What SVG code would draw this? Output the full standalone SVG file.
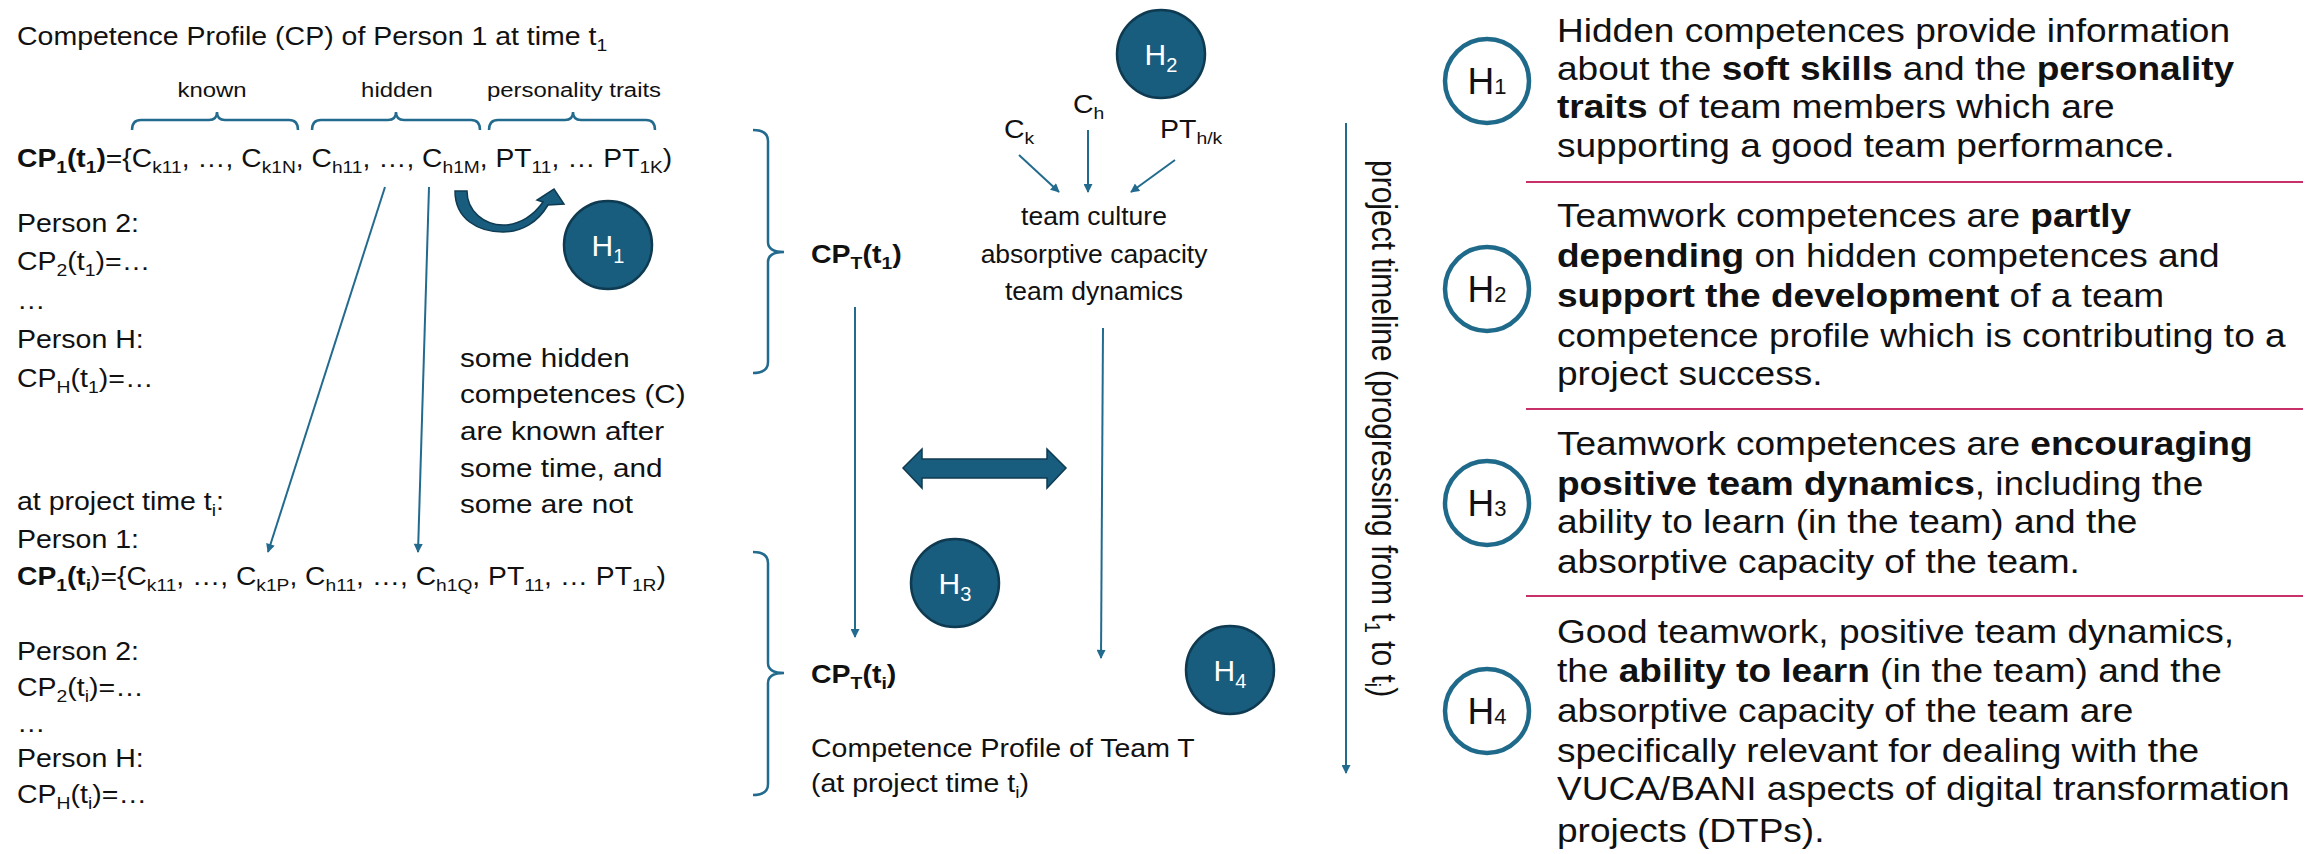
<svg xmlns="http://www.w3.org/2000/svg" width="2323" height="854" viewBox="0 0 2323 854">
<defs>
<style>
text{font-family:"Liberation Sans",Arial,sans-serif;fill:#111}
.t25{font-size:25px}
.t26{font-size:26px}
.t21{font-size:21px}
.t30{font-size:30px}
.r{font-size:32.5px}
.s{font-size:17px}
.b{font-weight:bold}
.ln{stroke:#236b8e;stroke-width:2;fill:none}
.br{stroke:#236b8e;stroke-width:2.5;fill:none}
.hf{fill:#185d7e;stroke:#0f3b52;stroke-width:2.5}
.ho{fill:#fff;stroke:#1f6a8a;stroke-width:4.5}
.hl{fill:#fff;font-size:30px}
.hr{font-size:37px;fill:#111}
.sep{stroke:#c8306a;stroke-width:2}
.shape{fill:#185d7e;stroke:#0f3b52;stroke-width:1.5}
</style>
<marker id="ah" viewBox="0 0 10 10" refX="9" refY="5" markerWidth="11" markerHeight="9" markerUnits="userSpaceOnUse" orient="auto"><path d="M0,0 L10,5 L0,10 z" fill="#236b8e"/></marker>
</defs>
<rect width="2323" height="854" fill="#fff"/>

<g id="person-profiles">
<text class="t25" transform="translate(17,45) scale(1.14,1)">Competence Profile (CP) of Person 1 at time t<tspan class="s" dy="6">1</tspan></text>
<text class="t21" text-anchor="middle" transform="translate(212,97) scale(1.14,1)">known</text>
<text class="t21" text-anchor="middle" transform="translate(397,97) scale(1.14,1)">hidden</text>
<text class="t21" text-anchor="middle" transform="translate(574,97) scale(1.14,1)">personality traits</text>
<text class="t25" transform="translate(17,167) scale(1.13,1)"><tspan class="b">CP<tspan class="s" dy="6">1</tspan><tspan dy="-6">(t</tspan><tspan class="s" dy="6">1</tspan><tspan dy="-6">)</tspan></tspan>={C<tspan class="s" dy="6">k11</tspan><tspan dy="-6">, …, C</tspan><tspan class="s" dy="6">k1N</tspan><tspan dy="-6">, C</tspan><tspan class="s" dy="6">h11</tspan><tspan dy="-6">, …, C</tspan><tspan class="s" dy="6">h1M</tspan><tspan dy="-6">, PT</tspan><tspan class="s" dy="6">11</tspan><tspan dy="-6">, … PT</tspan><tspan class="s" dy="6">1K</tspan><tspan dy="-6">)</tspan></text>
<text class="t25" transform="translate(17,232) scale(1.14,1)">Person 2:</text>
<text class="t25" transform="translate(17,270) scale(1.14,1)">CP<tspan class="s" dy="6">2</tspan><tspan dy="-6">(t</tspan><tspan class="s" dy="6">1</tspan><tspan dy="-6">)=…</tspan></text>
<text class="t25" transform="translate(17,309) scale(1.14,1)">…</text>
<text class="t25" transform="translate(17,348) scale(1.14,1)">Person H:</text>
<text class="t25" transform="translate(17,387) scale(1.14,1)">CP<tspan class="s" dy="6">H</tspan><tspan dy="-6">(t</tspan><tspan class="s" dy="6">1</tspan><tspan dy="-6">)=…</tspan></text>

<text class="t26" transform="translate(460,367) scale(1.14,1)">some hidden</text>
<text class="t26" transform="translate(460,403) scale(1.14,1)">competences (C)</text>
<text class="t26" transform="translate(460,440) scale(1.14,1)">are known after</text>
<text class="t26" transform="translate(460,477) scale(1.14,1)">some time, and</text>
<text class="t26" transform="translate(460,513) scale(1.14,1)">some are not</text>

<text class="t25" transform="translate(17,510) scale(1.14,1)">at project time t<tspan class="s" dy="6">i</tspan><tspan dy="-6">:</tspan></text>
<text class="t25" transform="translate(17,548) scale(1.14,1)">Person 1:</text>
<text class="t25" transform="translate(17,585) scale(1.13,1)"><tspan class="b">CP<tspan class="s" dy="6">1</tspan><tspan dy="-6">(t</tspan><tspan class="s" dy="6">i</tspan></tspan><tspan dy="-6">)={C</tspan><tspan class="s" dy="6">k11</tspan><tspan dy="-6">, …, C</tspan><tspan class="s" dy="6">k1P</tspan><tspan dy="-6">, C</tspan><tspan class="s" dy="6">h11</tspan><tspan dy="-6">, …, C</tspan><tspan class="s" dy="6">h1Q</tspan><tspan dy="-6">, PT</tspan><tspan class="s" dy="6">11</tspan><tspan dy="-6">, … PT</tspan><tspan class="s" dy="6">1R</tspan><tspan dy="-6">)</tspan></text>
<text class="t25" transform="translate(17,660) scale(1.14,1)">Person 2:</text>
<text class="t25" transform="translate(17,696) scale(1.14,1)">CP<tspan class="s" dy="6">2</tspan><tspan dy="-6">(t</tspan><tspan class="s" dy="6">i</tspan><tspan dy="-6">)=…</tspan></text>
<text class="t25" transform="translate(17,732) scale(1.14,1)">…</text>
<text class="t25" transform="translate(17,767) scale(1.14,1)">Person H:</text>
<text class="t25" transform="translate(17,803) scale(1.14,1)">CP<tspan class="s" dy="6">H</tspan><tspan dy="-6">(t</tspan><tspan class="s" dy="6">i</tspan><tspan dy="-6">)=…</tspan></text>
</g>

<g id="braces">
<path class="br" d="M132,130 Q132,120 141,120 L209,120 Q217,120 217,112 Q217,120 225,120 L289,120 Q298,120 298,130"/>
<path class="br" d="M312,130 Q312,120 321,120 L388,120 Q396,120 396,112 Q396,120 404,120 L471,120 Q480,120 480,130"/>
<path class="br" d="M489,130 Q489,120 498,120 L565,120 Q573,120 573,112 Q573,120 581,120 L646,120 Q655,120 655,130"/>
<path class="br" d="M753,130 Q768,130 768,141 L768,242 Q768,252 784,252 Q768,252 768,262 L768,362 Q768,373 753,373"/>
<path class="br" d="M753,552 Q768,552 768,563 L768,663 Q768,673 784,673 Q768,673 768,683 L768,784 Q768,795 753,795"/>
</g>

<g id="team-profile">
<text class="t25 b" transform="translate(811,263) scale(1.14,1)">CP<tspan class="s" dy="6">T</tspan><tspan dy="-6">(t</tspan><tspan class="s" dy="6">1</tspan><tspan dy="-6">)</tspan></text>
<text class="t25 b" transform="translate(811,683) scale(1.14,1)">CP<tspan class="s" dy="6">T</tspan><tspan dy="-6">(t</tspan><tspan class="s" dy="6">i</tspan><tspan dy="-6">)</tspan></text>
<text class="t25" transform="translate(1004,138) scale(1.14,1)">C<tspan class="s" dy="6">k</tspan></text>
<text class="t25" transform="translate(1073,113) scale(1.14,1)">C<tspan class="s" dy="6">h</tspan></text>
<text class="t25" transform="translate(1160,138) scale(1.14,1)">PT<tspan class="s" dy="6">h/k</tspan></text>
<text class="t25" text-anchor="middle" transform="translate(1094,225) scale(1.06,1)">team culture</text>
<text class="t25" text-anchor="middle" transform="translate(1094,263) scale(1.06,1)">absorptive capacity</text>
<text class="t25" text-anchor="middle" transform="translate(1094,300) scale(1.06,1)">team dynamics</text>
<text class="t25" transform="translate(811,757) scale(1.14,1)">Competence Profile of Team T</text>
<text class="t25" transform="translate(811,792) scale(1.14,1)">(at project time t<tspan class="s" dy="6">i</tspan><tspan dy="-6">)</tspan></text>
<text class="t30" transform="translate(1372,160) scale(1.14,1) rotate(90)">project timeline (progressing from t<tspan font-size="20" dy="6">1</tspan><tspan dy="-6"> to t</tspan><tspan font-size="20" dy="6">i</tspan><tspan dy="-6">)</tspan></text>
</g>

<g id="connectors">
<line class="ln" x1="385" y1="187" x2="268" y2="552" marker-end="url(#ah)"/>
<line class="ln" x1="429" y1="187" x2="418" y2="552" marker-end="url(#ah)"/>
<path class="shape" d="M455,191 C455,219 478,232 503,232 C522,232 538,222 548,205 L564,204 L554,189 L537,200 L543,202 C534,215 520,225 503,225 C485,225 467,212 467,191 Z"/>
<line class="ln" x1="1019" y1="155" x2="1059" y2="192" marker-end="url(#ah)"/>
<line class="ln" x1="1088" y1="130" x2="1088" y2="192" marker-end="url(#ah)"/>
<line class="ln" x1="1175" y1="160" x2="1131" y2="192" marker-end="url(#ah)"/>
<line class="ln" x1="855" y1="307" x2="855" y2="637" marker-end="url(#ah)"/>
<line class="ln" x1="1103" y1="328" x2="1101" y2="658" marker-end="url(#ah)"/>
<line class="ln" x1="1346" y1="123" x2="1346" y2="773" marker-end="url(#ah)"/>
<path class="shape" d="M903,468 L922,449 L922,459 L1047,459 L1047,449 L1066,468 L1047,488 L1047,478 L922,478 L922,488 Z"/>
</g>

<g id="H1-badge"><circle class="hf" cx="608" cy="245" r="44"/><text class="hl" text-anchor="middle" x="608" y="256">H<tspan font-size="20" dy="7">1</tspan></text></g>
<g id="H2-badge"><circle class="hf" cx="1161" cy="54" r="44"/><text class="hl" text-anchor="middle" x="1161" y="65">H<tspan font-size="20" dy="7">2</tspan></text></g>
<g id="H3-badge"><circle class="hf" cx="955" cy="583" r="44"/><text class="hl" text-anchor="middle" x="955" y="594">H<tspan font-size="20" dy="7">3</tspan></text></g>
<g id="H4-badge"><circle class="hf" cx="1230" cy="670" r="44"/><text class="hl" text-anchor="middle" x="1230" y="681">H<tspan font-size="20" dy="7">4</tspan></text></g>

<g id="separators">
<line class="sep" x1="1526" y1="182" x2="2303" y2="182"/>
<line class="sep" x1="1526" y1="409" x2="2303" y2="409"/>
<line class="sep" x1="1526" y1="596" x2="2303" y2="596"/>
</g>

<g id="H1-text">
<circle class="ho" cx="1487" cy="81" r="42"/>
<text class="hr" text-anchor="middle" x="1487" y="94">H<tspan font-size="22">1</tspan></text>
<text class="r" transform="translate(1557,42) scale(1.14,1)">Hidden competences provide information</text>
<text class="r" transform="translate(1557,80) scale(1.14,1)">about the <tspan class="b">soft skills</tspan> and the <tspan class="b">personality</tspan></text>
<text class="r" transform="translate(1557,118) scale(1.14,1)"><tspan class="b">traits</tspan> of team members which are</text>
<text class="r" transform="translate(1557,157) scale(1.14,1)">supporting a good team performance.</text>
</g>
<g id="H2-text">
<circle class="ho" cx="1487" cy="289" r="42"/>
<text class="hr" text-anchor="middle" x="1487" y="302">H<tspan font-size="22">2</tspan></text>
<text class="r" transform="translate(1557,227) scale(1.14,1)">Teamwork competences are <tspan class="b">partly</tspan></text>
<text class="r" transform="translate(1557,267) scale(1.14,1)"><tspan class="b">depending</tspan> on hidden competences and</text>
<text class="r" transform="translate(1557,307) scale(1.14,1)"><tspan class="b">support the development</tspan> of a team</text>
<text class="r" transform="translate(1557,347) scale(1.14,1)">competence profile which is contributing to a</text>
<text class="r" transform="translate(1557,385) scale(1.14,1)">project success.</text>
</g>
<g id="H3-text">
<circle class="ho" cx="1487" cy="503" r="42"/>
<text class="hr" text-anchor="middle" x="1487" y="516">H<tspan font-size="22">3</tspan></text>
<text class="r" transform="translate(1557,455) scale(1.14,1)">Teamwork competences are <tspan class="b">encouraging</tspan></text>
<text class="r" transform="translate(1557,495) scale(1.14,1)"><tspan class="b">positive team dynamics</tspan>, including the</text>
<text class="r" transform="translate(1557,533) scale(1.14,1)">ability to learn (in the team) and the</text>
<text class="r" transform="translate(1557,573) scale(1.14,1)">absorptive capacity of the team.</text>
</g>
<g id="H4-text">
<circle class="ho" cx="1487" cy="711" r="42"/>
<text class="hr" text-anchor="middle" x="1487" y="724">H<tspan font-size="22">4</tspan></text>
<text class="r" transform="translate(1557,643) scale(1.14,1)">Good teamwork, positive team dynamics,</text>
<text class="r" transform="translate(1557,682) scale(1.14,1)">the <tspan class="b">ability to learn</tspan> (in the team) and the</text>
<text class="r" transform="translate(1557,722) scale(1.14,1)">absorptive capacity of the team are</text>
<text class="r" transform="translate(1557,762) scale(1.14,1)">specifically relevant for dealing with the</text>
<text class="r" transform="translate(1557,800) scale(1.14,1)">VUCA/BANI aspects of digital transformation</text>
<text class="r" transform="translate(1557,842) scale(1.14,1)">projects (DTPs).</text>
</g>
</svg>
